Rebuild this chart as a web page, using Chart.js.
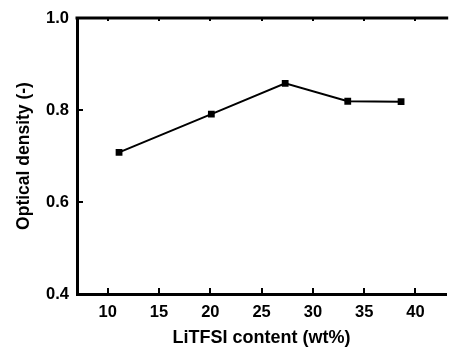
<!DOCTYPE html>
<html>
<head>
<meta charset="utf-8">
<script src="https://cdn.jsdelivr.net/npm/chart.js@4/dist/chart.umd.min.js"></script>
<style>
  html, body { margin: 0; padding: 0; background: #fff; overflow: hidden; }
  #wrap { width: 449px; height: 354px; overflow: hidden; }
</style>
</head>
<body>
<div id="wrap"><canvas id="odChart" width="451" height="354"></canvas></div>
<script>
// LiTFSI content (wt%) vs optical density
var litfsiContent = [11.1, 20.1, 27.3, 33.4, 38.6];
var opticalDensity = [0.708, 0.791, 0.858, 0.819, 0.818];
var xTicks = [10, 15, 20, 25, 30, 35, 40];
var yTicks = [0.4, 0.6, 0.8, 1.0];

var dataPoints = litfsiContent.map(function (x, i) {
    return { x: x, y: opticalDensity[i] };
});

var FONT = "'Liberation Sans', Arial, sans-serif";

// inward tick marks + top frame line
var frameTicks = {
    id: 'frameTicks',
    afterDraw: function (chart) {
        var ctx = chart.ctx;
        var area = chart.chartArea;
        var xs = chart.scales.x, ys = chart.scales.y;
        ctx.save();
        ctx.strokeStyle = '#000';
        ctx.lineWidth = 3;
        ctx.beginPath();
        ctx.moveTo(area.left - 1.5, area.top);
        ctx.lineTo(area.right + 2, area.top);
        ctx.stroke();
        ctx.lineWidth = 2;
        xTicks.forEach(function (v) {
            var px = Math.round(xs.getPixelForValue(v));
            ctx.beginPath();
            ctx.moveTo(px, area.bottom);
            ctx.lineTo(px, area.bottom - 6);
            ctx.stroke();
            ctx.beginPath();
            ctx.moveTo(px, area.top);
            ctx.lineTo(px, area.top + 3);
            ctx.stroke();
        });
        yTicks.forEach(function (v) {
            var py = Math.round(ys.getPixelForValue(v));
            ctx.beginPath();
            ctx.moveTo(area.left, py);
            ctx.lineTo(area.left + 6, py);
            ctx.stroke();
        });
        ctx.restore();
    }
};

new Chart(document.getElementById('odChart'), {
    type: 'scatter',
    data: {
        datasets: [{
            data: dataPoints,
            borderColor: '#000',
            backgroundColor: '#000',
            borderWidth: 2,
            pointStyle: 'rect',
            pointRadius: 4.8,
            pointBorderWidth: 0,
            pointBackgroundColor: '#000',
            showLine: true
        }]
    },
    options: {
        responsive: false,
        animation: false,
        layout: { padding: { top: 18, right: 0, bottom: 0, left: 0 } },
        plugins: {
            legend: { display: false },
            tooltip: { enabled: false }
        },
        elements: { line: { tension: 0 } },
        scales: {
            x: {
                type: 'linear',
                min: 7,
                max: 43,
                afterBuildTicks: function (scale) {
                    scale.ticks = xTicks.map(function (v) { return { value: v }; });
                },
                afterFit: function (scale) { scale.height = 60; },
                grid: { display: false, drawTicks: false },
                border: { display: true, color: '#000', width: 3 },
                ticks: {
                    color: '#000',
                    padding: 9,
                    maxRotation: 0,
                    font: { family: FONT, size: 16.5, weight: 'bold' }
                },
                title: {
                    display: true,
                    text: 'LiTFSI content (wt%)',
                    color: '#000',
                    padding: { top: 0, bottom: 5 },
                    font: { family: FONT, size: 18, weight: 'bold' }
                }
            },
            y: {
                type: 'linear',
                min: 0.4,
                max: 1.0,
                afterBuildTicks: function (scale) {
                    scale.ticks = yTicks.map(function (v) { return { value: v }; });
                },
                afterFit: function (scale) { scale.width = 77; },
                grid: { display: false, drawTicks: false },
                border: { display: true, color: '#000', width: 3 },
                ticks: {
                    color: '#000',
                    padding: 8,
                    callback: function (v) { return v.toFixed(1); },
                    font: { family: FONT, size: 16.5, weight: 'bold' }
                },
                title: {
                    display: true,
                    text: 'Optical density (-)',
                    color: '#000',
                    padding: { top: 14, bottom: 0 },
                    font: { family: FONT, size: 17.5, weight: 'bold' }
                }
            }
        }
    },
    plugins: [frameTicks]
});
</script>
</body>
</html>
